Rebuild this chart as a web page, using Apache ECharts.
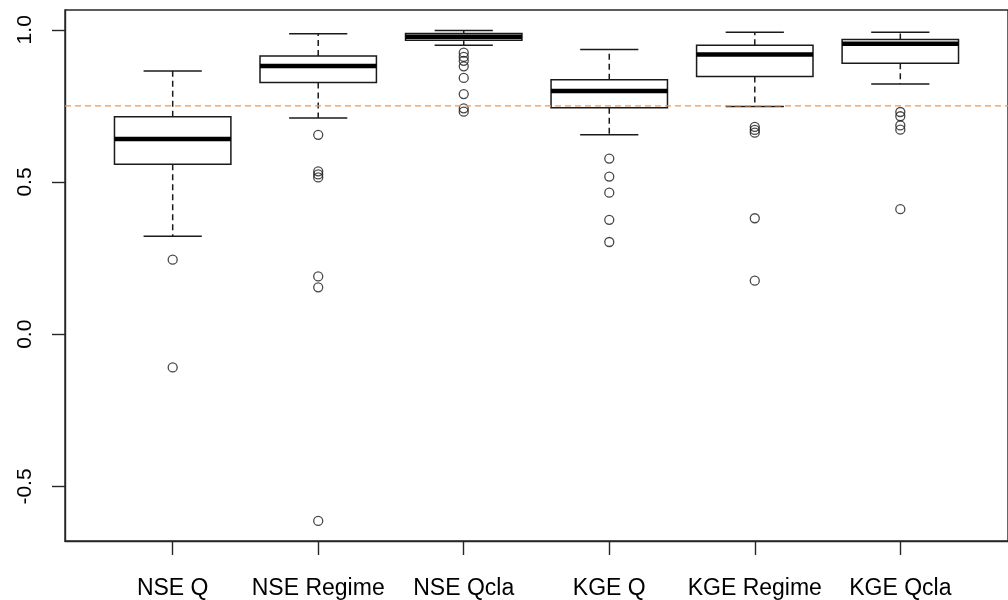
<!DOCTYPE html>
<html>
<head>
<meta charset="utf-8">
<script src="https://cdn.jsdelivr.net/npm/echarts@6/dist/echarts.min.js"></script>
<style>
  html, body { margin: 0; padding: 0; background: #fff; }
  #chart { width: 1008px; height: 600px; }
</style>
</head>
<body>
<div id="chart"></div>
<script>
// Score categories along the x axis
const categories = ['NSE Q', 'NSE Regime', 'NSE Qcla', 'KGE Q', 'KGE Regime', 'KGE Qcla'];

// Box statistics per category
const whiskerLow  = [0.322, 0.710, 0.949, 0.655, 0.748, 0.822];
const quartile1   = [0.558, 0.827, 0.966, 0.744, 0.847, 0.890];
const medians     = [0.641, 0.881, 0.977, 0.799, 0.919, 0.954];
const quartile3   = [0.714, 0.914, 0.988, 0.836, 0.949, 0.968];
const whiskerHigh = [0.865, 0.987, 0.998, 0.935, 0.992, 0.992];

// Outlying values per category
const outNseQ      = [0.245, -0.109];
const outNseRegime = [0.655, 0.535, 0.525, 0.515, 0.190, 0.154, -0.613];
const outNseQcla   = [0.925, 0.911, 0.898, 0.880, 0.842, 0.789, 0.742, 0.731];
const outKgeQ      = [0.577, 0.518, 0.465, 0.376, 0.303];
const outKgeRegime = [0.681, 0.671, 0.662, 0.381, 0.176];
const outKgeQcla   = [0.730, 0.716, 0.686, 0.672, 0.411];
const outliers = [outNseQ, outNseRegime, outNseQcla, outKgeQ, outKgeRegime, outKgeQcla];

// Threshold line and y tick labels
const threshold = 0.75;
const yTicks = [-0.5, 0.0, 0.5, 1.0];

// Axis extents
const xMin = 0.26, xMax = 6.74;
const yMin = -0.679, yMax = 1.065;

const boxData = categories.map((c, i) =>
  [i + 1, whiskerLow[i], quartile1[i], medians[i], quartile3[i], whiskerHigh[i]]);
const outlierData = [];
outliers.forEach((arr, i) => arr.forEach(v => outlierData.push([i + 1, v])));
const thresholdData = [[xMin, threshold], [xMax, threshold]];

const ink = '#1a1a1a';
const frame = '#262626';

function renderBox(params, api) {
  const x = api.value(0);
  const lo = api.coord([x, api.value(1)]);
  const b1 = api.coord([x, api.value(2)]);
  const md = api.coord([x, api.value(3)]);
  const b3 = api.coord([x, api.value(4)]);
  const hi = api.coord([x, api.value(5)]);
  const half = api.size([0.8, 0])[0] / 2;
  const cap = half / 2;
  const cx = lo[0];
  const solid = { stroke: ink, lineWidth: 1.5, fill: null };
  const dashed = { stroke: ink, lineWidth: 1.5, lineDash: [6, 4] };
  return {
    type: 'group',
    children: [
      { type: 'line', shape: { x1: cx, y1: b1[1], x2: cx, y2: lo[1] }, style: dashed },
      { type: 'line', shape: { x1: cx, y1: b3[1], x2: cx, y2: hi[1] }, style: dashed },
      { type: 'line', shape: { x1: cx - cap, y1: lo[1], x2: cx + cap, y2: lo[1] }, style: solid },
      { type: 'line', shape: { x1: cx - cap, y1: hi[1], x2: cx + cap, y2: hi[1] }, style: solid },
      { type: 'rect', shape: { x: cx - half, y: b3[1], width: 2 * half, height: b1[1] - b3[1] },
        style: { stroke: ink, lineWidth: 1.5, fill: '#fff' } },
      { type: 'line', shape: { x1: cx - half, y1: md[1], x2: cx + half, y2: md[1] },
        style: { stroke: '#000', lineWidth: 4.5 } }
    ]
  };
}

const chart = echarts.init(document.getElementById('chart'), null, { renderer: 'canvas' });
chart.setOption({
  animation: false,
  backgroundColor: '#fff',
  grid: {
    left: 65, top: 10, width: 952, height: 534,
    show: true, borderColor: frame, borderWidth: 1.4, backgroundColor: 'transparent'
  },
  xAxis: {
    type: 'value', min: xMin, max: xMax,
    splitLine: { show: false },
    axisLine: { show: true, onZero: false, lineStyle: { color: frame, width: 1.4 } },
    axisTick: { show: true, length: 14, customValues: [1, 2, 3, 4, 5, 6],
                lineStyle: { color: frame, width: 1.4 } },
    axisLabel: {
      customValues: [1, 2, 3, 4, 5, 6],
      formatter: v => categories[Math.round(v) - 1] || '',
      color: '#000', fontFamily: 'Liberation Sans, Arial, sans-serif', fontSize: 23, margin: 36
    }
  },
  yAxis: {
    type: 'value', min: yMin, max: yMax,
    splitLine: { show: false },
    axisLine: { show: true, onZero: false, lineStyle: { color: frame, width: 1.4 } },
    axisTick: { show: true, length: 13, customValues: yTicks,
                lineStyle: { color: frame, width: 1.4 } },
    axisLabel: {
      customValues: yTicks, rotate: 90,
      formatter: v => v.toFixed(1),
      color: '#000', fontFamily: 'Liberation Sans, Arial, sans-serif', fontSize: 21, margin: 29
    }
  },
  series: [
    {
      type: 'custom', renderItem: renderBox, data: boxData,
      encode: { x: 0, y: [1, 2, 3, 4, 5] }, z: 2
    },
    {
      type: 'scatter', data: outlierData, symbol: 'circle', symbolSize: 9,
      itemStyle: { color: 'transparent', borderColor: ink, borderWidth: 1.3 }, z: 3
    },
    {
      type: 'line', data: thresholdData, symbol: 'none', silent: true, z: 4,
      lineStyle: { color: '#F39550', type: [6, 4], width: 1.2 }
    }
  ]
});
</script>
</body>
</html>
